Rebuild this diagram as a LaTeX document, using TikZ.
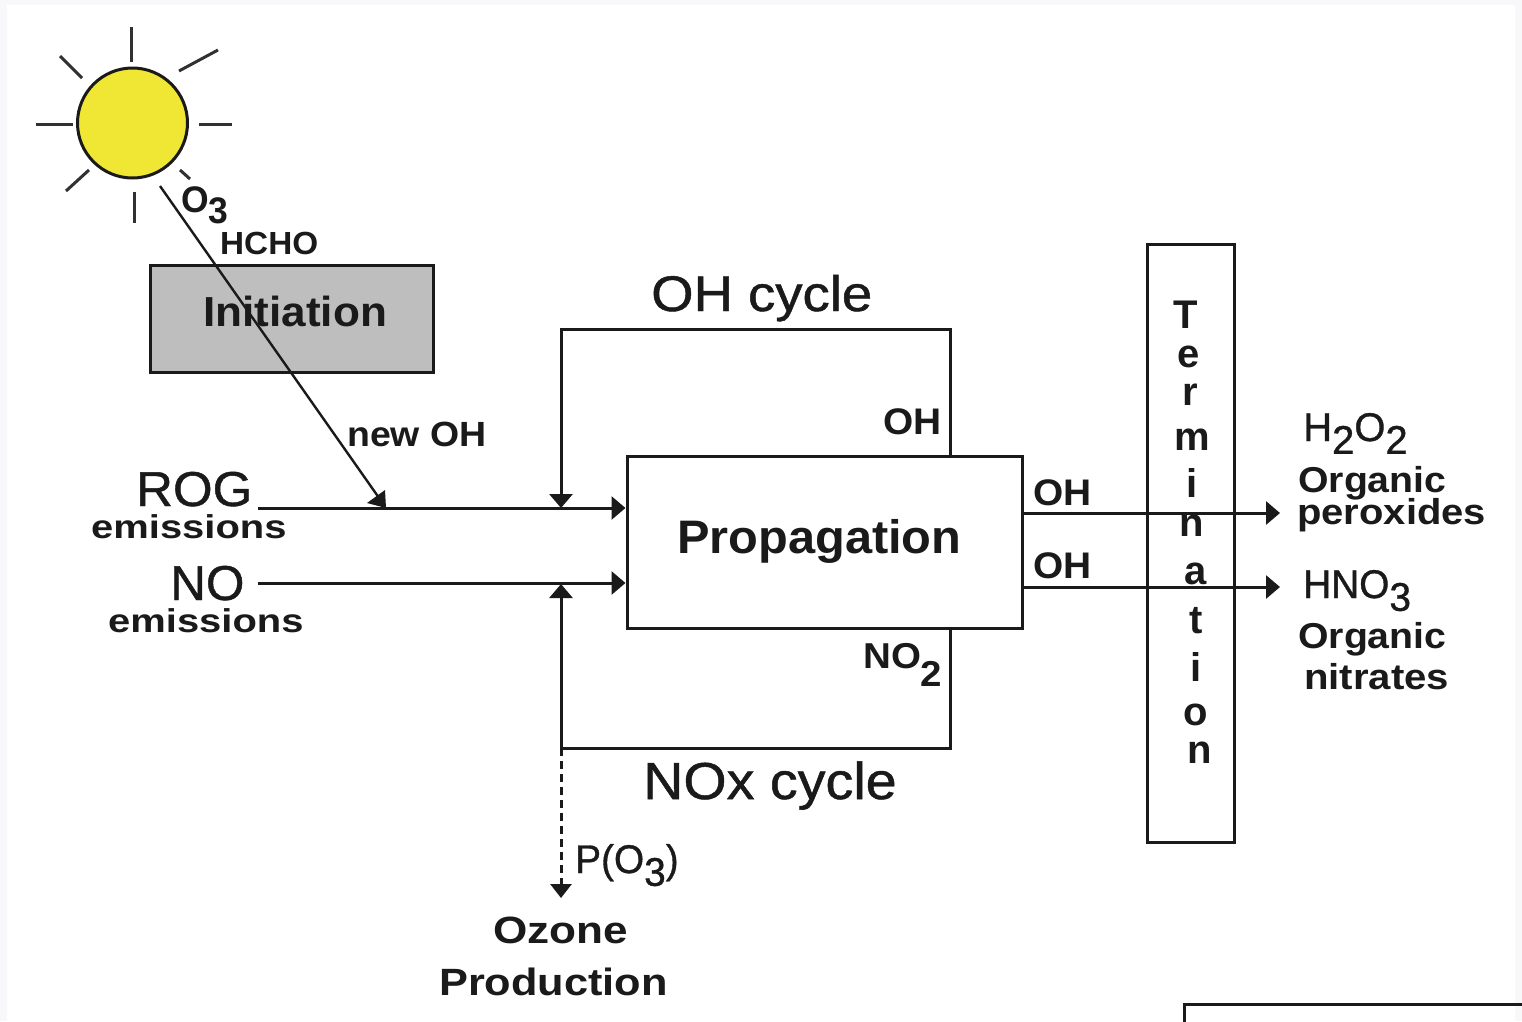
\documentclass[tikz,border=0pt]{standalone}
\usepackage{fontspec}
\setmainfont{Liberation Sans}
\newfontfamily\semi[FakeBold=0.9]{Liberation Sans}
\usetikzlibrary{arrows.meta}
\definecolor{edgeband}{HTML}{F8F8FB}
\definecolor{sunfill}{HTML}{EFE733}
\definecolor{initfill}{HTML}{BEBEBE}
\definecolor{ink}{HTML}{1A1A1A}
\newcommand{\lowsub}[1]{\raisebox{-0.32em}{#1}}
\newcommand{\deepsub}[1]{\raisebox{-0.5em}{#1}}
\newcommand{\fs}[1]{\fontsize{#1}{#1}\selectfont}
\newcommand{\stretchw}[2]{\scalebox{#1}[1]{#2}}
\tikzset{
  x=1pt,y=-1pt,
  line/.style={draw=ink,line width=3pt},
  tipline/.style={line,-{Triangle[length=14pt,width=23pt]}},
  boxed/.style={draw=ink,line width=3pt,rectangle,inner sep=0pt},
  lab/.style={anchor=base west,inner sep=0pt,text=ink,font=\bfseries},
  big/.style={anchor=base west,inner sep=0pt,text=ink},
  ray/.style={draw=ink!90,line width=3pt},
}
\begin{document}
\begin{tikzpicture}
\useasboundingbox (0,0) rectangle (1522,1021);
\fill[edgeband] (0,0) rectangle (1522,1021);
\fill[white] (7,5) rectangle (1515,1021);
% frame at lower right
\draw[draw=ink,line width=3pt] (1184,1023) -- (1184,1004) -- (1524,1004);
% sun
\node[circle,draw=ink,line width=3pt,fill=sunfill,minimum size=110pt,inner sep=0pt] (sun) at (132.5,123) {};
\draw[ray] (131,27) -- (131,62);
\draw[ray] (179,71) -- (218,50);
\draw[ray] (199,124) -- (232,124);
\draw[ray] (180,170) -- (190,179);
\draw[ray] (134,192) -- (134,223);
\draw[ray] (89,170) -- (66,191);
\draw[ray] (36,124) -- (73,124);
\draw[ray] (60,56) -- (82,78);
% boxes
\node[boxed,fill=initfill,minimum width=283pt,minimum height=107pt] (init) at (291.5,318.5) {};
\node[boxed,minimum width=395pt,minimum height=172pt] (prop) at (824.5,542) {};
\node[boxed,minimum width=87pt,minimum height=598pt] (term) at (1190.5,543.5) {};
% coordinates
\coordinate (rogstart) at (258,508);
\coordinate (rogend) at (prop.west |- rogstart);
\coordinate (nostart) at (258,583);
\coordinate (noend) at (prop.west |- nostart);
\coordinate (ohup) at (950,456);
\coordinate (ohtl) at (561,329);
\coordinate (ohtr) at (950,329);
\coordinate (ohdn) at (561,508);
\coordinate (noxdn) at (950,628);
\coordinate (noxbr) at (950,748);
\coordinate (noxbl) at (561,748);
\coordinate (noxup) at (561,584);
\coordinate (ozone) at (561,898);
\coordinate (raystart) at (160,186);
\coordinate (rayend) at (384,505);
\coordinate (outa) at (1280,513);
\coordinate (outb) at (1280,587);
% connectors
\draw[tipline] (rogstart) -- (rogend);
\draw[tipline] (nostart) -- (noend);
\draw[tipline] (ohup) -- (ohtr) -- (ohtl) -- (ohdn);
\draw[tipline] (noxdn) -- (noxbr) -- (noxbl) -- (noxup);
\draw[draw=ink,line width=3pt,dash pattern=on 8pt off 5pt,-{Triangle[length=14pt,width=21pt]}] (noxbl) -- (ozone);
\draw[tipline] (prop.east |- outa) -- (outa);
\draw[tipline] (prop.east |- outb) -- (outb);
\draw[draw=ink,line width=2.4pt] (raystart) -- (rayend);
\fill[ink] (385,490) -- (386,508) -- (367,503) -- cycle;
% labels
\node[lab,font=\bfseries\fs{37}] (o3) at (181,212) {\stretchw{.96}{O\lowsub{3}}};
\node[lab,font=\bfseries\fs{32}] (hcho) at (220,254) {\stretchw{1.04}{HCHO}};
\node[lab,font=\bfseries\fs{42}] (inittext) at (203,326) {\stretchw{1.05}{Initiation}};
\node[big,font=\semi\fs{50}] (ohc) at (651,311) {\stretchw{1.09}{OH cycle}};
\node[lab,font=\bfseries\fs{37}] (oh1) at (883,434) {\stretchw{1.05}{OH}};
\node[lab,font=\bfseries\fs{35}] (newoh) at (347,446) {\stretchw{1.07}{new OH}};
\node[big,font=\semi\fs{49}] (rog) at (136,506) {\stretchw{1.04}{ROG}};
\node[lab,font=\bfseries\fs{33}] (em1) at (91,538) {\stretchw{1.21}{emissions}};
\node[big,font=\semi\fs{49}] (no) at (170,600) {\stretchw{1.01}{NO}};
\node[lab,font=\bfseries\fs{33}] (em2) at (108,632) {\stretchw{1.21}{emissions}};
\node[lab,font=\bfseries\fs{47}] (proptext) at (677,553) {\stretchw{1.037}{Propagation}};
\node[lab,font=\bfseries\fs{37}] (oh2) at (1033,505) {\stretchw{1.05}{OH}};
\node[lab,font=\bfseries\fs{37}] (oh3) at (1033,578) {\stretchw{1.05}{OH}};
\node[lab,font=\bfseries\fs{36}] (no2) at (863,668) {\stretchw{1.07}{NO\deepsub{2}}};
\node[big,font=\semi\fs{52}] (noxc) at (643,799) {\stretchw{1.07}{NOx cycle}};
\node[big,font=\semi\fs{40}] (po3) at (575,873) {\stretchw{.97}{P(O\lowsub{3})}};
\node[lab,font=\bfseries\fs{38}] (oz1) at (493,943) {\stretchw{1.16}{Ozone}};
\node[lab,font=\bfseries\fs{38}] (oz2) at (439,995) {\stretchw{1.14}{Production}};
\node[big,font=\semi\fs{40}] (h2o2) at (1303,441) {H\lowsub{2}O\lowsub{2}};
\node[lab,font=\bfseries\fs{36}] (org1) at (1298,492) {\stretchw{1.09}{Organic}};
\node[lab,font=\bfseries\fs{36}] (per) at (1297,524) {\stretchw{1.11}{peroxides}};
\node[big,font=\semi\fs{40}] (hno3) at (1303,598) {\stretchw{.97}{HNO\lowsub{3}}};
\node[lab,font=\bfseries\fs{36}] (org2) at (1298,648) {\stretchw{1.09}{Organic}};
\node[lab,font=\bfseries\fs{36}] (nit) at (1304,689) {\stretchw{1.115}{nitrates}};
% Termination, letter by letter
\foreach \ch/\px/\py in {T/1186/315,e/1189/357,r/1190/395,m/1192/440,i/1192/483,n/1192/526,a/1196/574,t/1196/621,i/1196/667,o/1196/715,n/1200/753}{
  \node[inner sep=0pt,text=ink,font=\bfseries\fs{40},anchor=center] at (\px,\py) {\ch};
}
\end{tikzpicture}
\end{document}
